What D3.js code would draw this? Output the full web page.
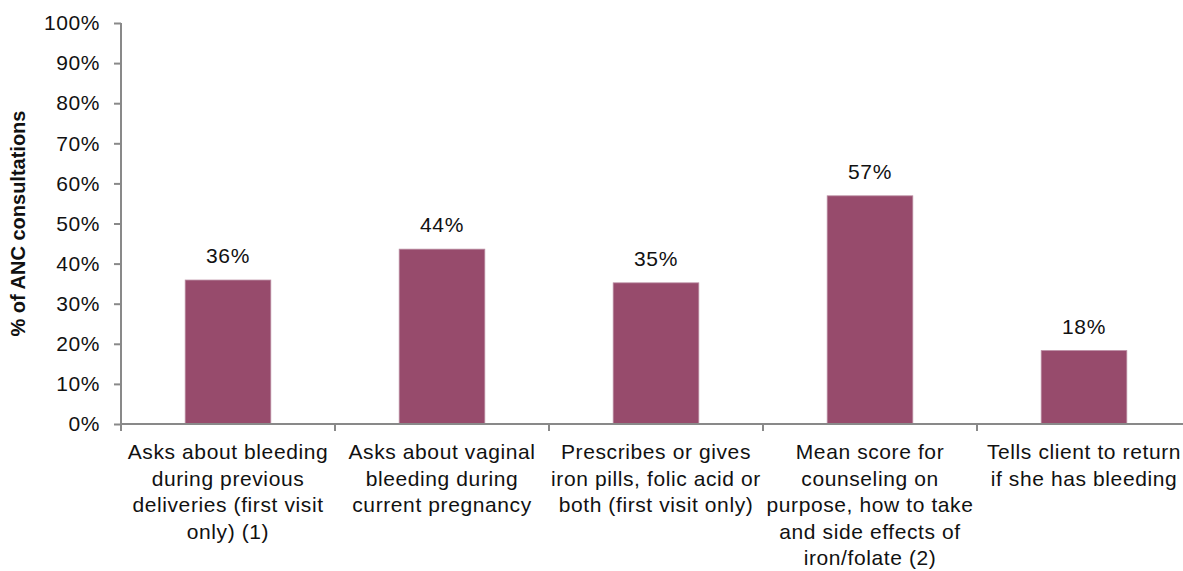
<!DOCTYPE html>
<html>
<head>
<meta charset="utf-8">
<script src="https://cdn.jsdelivr.net/npm/d3@7"></script>
<style>
  body { margin: 0; background: #fff; }
  svg { display: block; font-family: "Liberation Sans", Arial, sans-serif; }
</style>
</head>
<body>
<svg></svg>
<script>
// chart data
var categories = [
  ['Asks about bleeding', 'during previous', 'deliveries (first visit', 'only) (1)'],
  ['Asks about vaginal', 'bleeding during', 'current pregnancy'],
  ['Prescribes or gives', 'iron pills, folic acid or', 'both (first visit only)'],
  ['Mean score for', 'counseling on', 'purpose, how to take', 'and side effects of', 'iron/folate (2)'],
  ['Tells client to return', 'if she has bleeding']
];
var values = [35.9, 43.6, 35.2, 56.9, 18.3];
var yTicks = [0, 10, 20, 30, 40, 50, 60, 70, 80, 90, 100];
var yTitle = '% of ANC consultations';

var canvasWidth = 1183;
var canvasHeight = 571;
var margin = { top: 23, left: 121, bottom: 147 };
var bandWidth = 214;
var height = canvasHeight - margin.top - margin.bottom;
var labelFont = '21px';
var labelSpacing = '0.6px';

var svg = d3.select('svg')
  .attr('width', canvasWidth)
  .attr('height', canvasHeight);

var g = svg.append('g')
  .attr('transform', 'translate(' + margin.left + ',' + margin.top + ')');

var idx = d3.range(values.length);
var xScale = d3.scaleBand()
  .domain(idx)
  .range([0, bandWidth * values.length])
  .paddingInner(0.6)
  .paddingOuter(0.3);
var yScale = d3.scaleLinear().domain([0, 100]).range([height, 0]);

// y axis
var yAxis = g.append('g')
  .call(d3.axisLeft(yScale).tickValues(yTicks).tickSize(7).tickPadding(14)
    .tickFormat(function(d) { return d + '%'; }));
yAxis.selectAll('line, path').attr('stroke', '#898989').attr('stroke-width', 2);
yAxis.select('path').attr('d', 'M0,0V' + height);
yAxis.selectAll('text')
  .attr('fill', '#111')
  .style('font-size', labelFont)
  .style('letter-spacing', labelSpacing)
  .style('font-family', '"Liberation Sans", Arial, sans-serif');

// bars
g.selectAll('rect.bar').data(idx)
  .enter().append('rect')
  .attr('class', 'bar')
  .attr('x', function(i) { return xScale(i); })
  .attr('width', xScale.bandwidth())
  .attr('y', function(i) { return yScale(values[i]); })
  .attr('height', function(i) { return height - yScale(values[i]); })
  .attr('fill', '#974b6c')
  .attr('stroke', '#b98aa0')
  .attr('stroke-width', 0.8);

// value labels
g.selectAll('text.val').data(idx)
  .enter().append('text')
  .attr('class', 'val')
  .attr('x', function(i) { return xScale(i) + xScale.bandwidth() / 2; })
  .attr('y', function(i) { return yScale(values[i]) - 17; })
  .attr('text-anchor', 'middle')
  .attr('fill', '#111')
  .style('font-size', labelFont)
  .style('letter-spacing', labelSpacing)
  .text(function(i) { return Math.round(values[i]) + '%'; });

// x axis line and boundary ticks
var xAxis = g.append('g').attr('transform', 'translate(0,' + height + ')');
xAxis.append('line')
  .attr('x1', 0).attr('x2', canvasWidth - margin.left)
  .attr('stroke', '#898989').attr('stroke-width', 2);
xAxis.selectAll('line.tick').data(d3.range(values.length + 1))
  .enter().append('line')
  .attr('class', 'tick')
  .attr('x1', function(i) { return i * bandWidth; })
  .attr('x2', function(i) { return i * bandWidth; })
  .attr('y1', 0).attr('y2', 7)
  .attr('stroke', '#898989').attr('stroke-width', 2);

// category labels
var catLabel = xAxis.selectAll('text.cat').data(idx)
  .enter().append('text')
  .attr('class', 'cat')
  .attr('text-anchor', 'middle')
  .attr('fill', '#111')
  .style('font-size', labelFont)
  .style('letter-spacing', labelSpacing)
  .attr('transform', function(i) {
    return 'translate(' + (xScale(i) + xScale.bandwidth() / 2) + ',35)';
  });
catLabel.selectAll('tspan')
  .data(function(i) { return categories[i]; })
  .enter().append('tspan')
  .attr('x', 0)
  .attr('y', function(d, j) { return j * 26.5; })
  .text(function(d) { return d; });

// y title
svg.append('text')
  .attr('transform', 'translate(25,' + (margin.top + height / 2) + ') rotate(-90)')
  .attr('text-anchor', 'middle')
  .attr('fill', '#111')
  .style('font-size', '20px')
  .style('font-weight', 'bold')
  .text(yTitle);
</script>
</body>
</html>
